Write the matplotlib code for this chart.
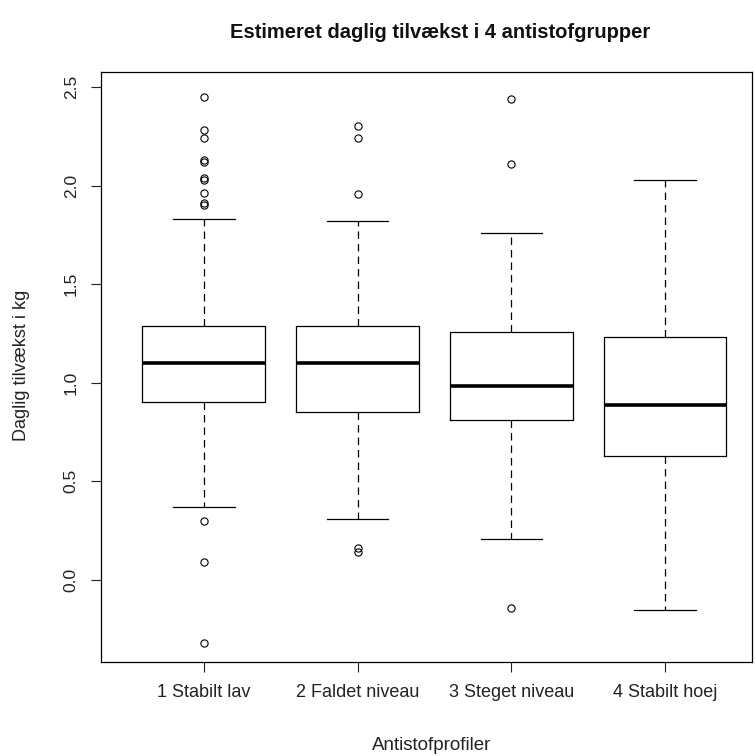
import numpy as np
import matplotlib
matplotlib.use("Agg")
from matplotlib import pyplot as plt

plt.rcParams['font.family'] = ['Liberation Sans', 'DejaVu Sans']

# estimated from the R boxplot
groups = ['1 Stabilt lav', '2 Faldet niveau', '3 Steget niveau', '4 Stabilt hoej']
whis_lo = [0.37, 0.31, 0.21, -0.15]
q1 = [0.90, 0.85, 0.81, 0.63]
med = [1.10, 1.10, 0.985, 0.885]
q3 = [1.29, 1.29, 1.26, 1.23]
whis_hi = [1.83, 1.82, 1.76, 2.03]
outliers = [
    [2.45, 2.28, 2.24, 2.13, 2.12, 2.04, 2.03, 1.96, 1.91, 1.90, 0.30, 0.09, -0.32],
    [2.30, 2.24, 1.955, 0.16, 0.14],
    [2.44, 2.11, -0.14],
    [],
]
yticks = [0.0, 0.5, 1.0, 1.5, 2.0, 2.5]

stats = []
for i, name in enumerate(groups):
    stats.append(dict(label=name, whislo=whis_lo[i], q1=q1[i], med=med[i],
                      q3=q3[i], whishi=whis_hi[i], fliers=np.array(outliers[i])))

fig = plt.figure(figsize=(7.55, 7.56), dpi=100)
ax = fig.add_axes([101 / 755, 1 - 662 / 756, (752 - 101) / 755, (662 - 72) / 756])

ax.bxp(stats, positions=[1, 2, 3, 4], widths=0.8, patch_artist=False,
       boxprops=dict(color='black', linewidth=0.9),
       whiskerprops=dict(color='black', linewidth=0.9, linestyle=(0, (6, 4))),
       capprops=dict(color='black', linewidth=0.9),
       capwidths=0.4,
       medianprops=dict(color='black', linewidth=2.6, solid_capstyle='butt'),
       flierprops=dict(marker='o', markersize=5.2, markerfacecolor='none',
                       markeredgecolor='black', markeredgewidth=0.8))

ax.set_xlim(0.33, 4.566)
ax.set_ylim(-0.416, 2.576)
ax.set_yticks(yticks)
ax.set_yticklabels([f'{t:.1f}' for t in yticks])
ax.set_xticks([1, 2, 3, 4])
ax.set_xticklabels(groups)
ax.tick_params(axis='y', labelrotation=90, length=7, width=0.8, pad=9, labelsize=12.5, colors='#222222')
ax.tick_params(axis='x', length=7, width=0.8, pad=9, labelsize=13, colors='#222222')
for lbl in ax.get_yticklabels():
    lbl.set_verticalalignment('center')
for s in ax.spines.values():
    s.set_linewidth(0.9)

fig.text(440 / 755, 1 - 33 / 756, 'Estimeret daglig tilvækst i 4 antistofgrupper',
         ha='center', va='center', fontsize=14.5, fontweight='bold', color='#111111')
fig.text(432 / 755, 1 - 745 / 756, 'Antistofprofiler', ha='center', va='center',
         fontsize=13.5, color='#222222')
fig.text(22 / 755, 1 - 365 / 756, 'Daglig tilvækst i kg', ha='center', va='center',
         rotation=90, fontsize=13, color='#222222')

fig.savefig('out.png', dpi=100, facecolor='white')
